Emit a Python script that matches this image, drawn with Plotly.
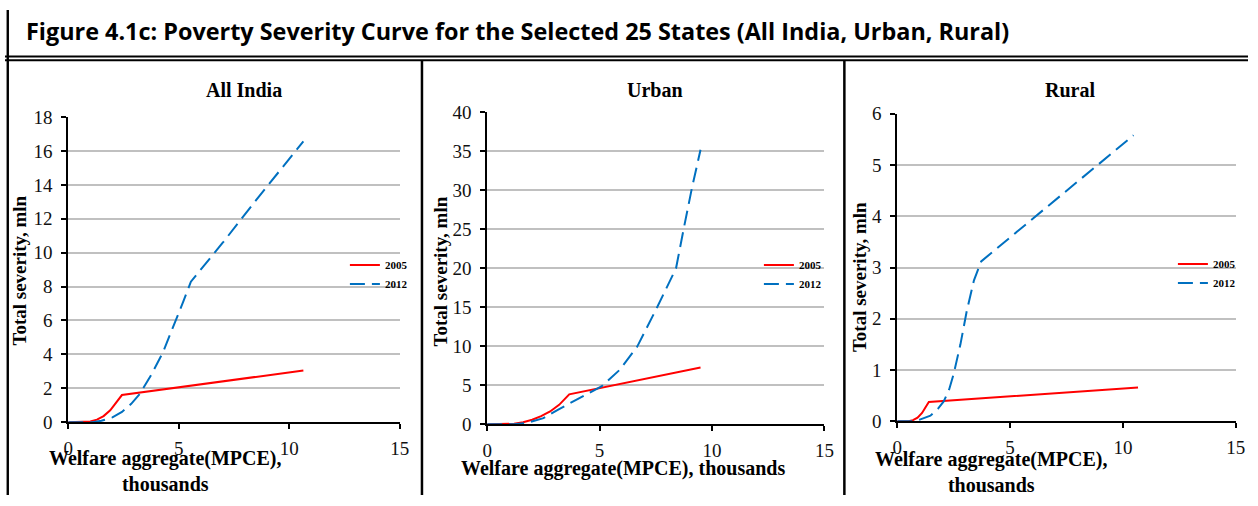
import plotly.graph_objects as go

# ---------------- data ----------------
xticks = [0, 5, 10, 15]

ai_x_2005 = [0, 0.7, 1.0, 1.3, 1.6, 1.9, 2.15, 2.43, 10.64]
ai_y_2005 = [0, 0, 0.04, 0.15, 0.36, 0.7, 1.1, 1.6, 3.05]
ai_x_2012 = [0, 1.1, 1.5, 2.0, 2.43, 2.85, 3.25, 3.77, 4.29, 4.8, 5.2, 5.55, 7.0, 8.5, 10.64]
ai_y_2012 = [0, 0, 0.08, 0.28, 0.6, 1.08, 1.69, 2.82, 4.13, 5.75, 7.1, 8.29, 10.6, 13.1, 16.57]

ur_x_2005 = [0, 0.8, 1.2, 1.6, 2.0, 2.4, 2.8, 3.2, 3.65, 9.49]
ur_y_2005 = [0, 0, 0.08, 0.27, 0.6, 1.05, 1.65, 2.5, 3.85, 7.3]
ur_x_2012 = [0, 1.2, 1.8, 2.5, 3.16, 4.0, 5.1, 5.9, 6.68, 7.56, 8.4, 8.75, 9.1, 9.49]
ur_y_2012 = [0, 0, 0.2, 0.8, 1.9, 3.2, 4.9, 7.0, 10.0, 15.0, 20.0, 25.2, 30.2, 35.2]

ru_x_2005 = [0, 0.5, 0.7, 0.9, 1.1, 1.25, 1.4, 10.67]
ru_y_2005 = [0, 0, 0.02, 0.07, 0.16, 0.26, 0.374, 0.66]
ru_x_2012 = [0, 0.7, 1.0, 1.47, 1.8, 2.06, 2.3, 2.5, 2.8, 3.08, 3.4, 3.72, 10.47]
ru_y_2012 = [0, 0, 0.03, 0.107, 0.24, 0.387, 0.62, 0.92, 1.5, 2.15, 2.75, 3.12, 5.58]

panel_titles = ["All India", "Urban", "Rural"]
series_names = ["2005", "2012"]
fig_title = "Figure 4.1c: Poverty Severity Curve for the Selected 25 States (All India, Urban, Rural)"
y_title = "Total severity, mln"
x_title_two = "Welfare aggregate(MPCE),<br>thousands"
x_title_one = "Welfare aggregate(MPCE), thousands"

# ---------------- styling / layout ----------------
W, H = 1258, 506
def px(x):
    return x / W
def py(y):
    return 1 - y / H

RED = "#ff0000"
BLUE = "#0070c0"
SERIF = "Liberation Serif, Times New Roman, serif"

panels = [
    dict(x=(64, 399.5), y=(430, 111.7), ymax=18, dtick=2,
         xs=(ai_x_2005, ai_x_2012), ys=(ai_y_2005, ai_y_2012)),
    dict(x=(488, 829.3), y=(432.3, 106.7), ymax=40, dtick=5,
         xs=(ur_x_2005, ur_x_2012), ys=(ur_y_2005, ur_y_2012)),
    dict(x=(903, 1245.6), y=(429, 108.3), ymax=6, dtick=1,
         xs=(ru_x_2005, ru_x_2012), ys=(ru_y_2005, ru_y_2012)),
]

fig = go.Figure()
layout = dict(
    width=W, height=H,
    margin=dict(l=0, r=0, t=0, b=0),
    paper_bgcolor="white", plot_bgcolor="white",
    showlegend=True,
)

legend_pos = [(344, 251), (763, 251), (1182, 250)]

for i, p in enumerate(panels):
    sfx = "" if i == 0 else str(i + 1)
    xa, ya = "x" + sfx, "y" + sfx
    lg = "legend" + sfx
    for k, (name, col, dash) in enumerate(
            [(series_names[0], RED, "solid"), (series_names[1], BLUE, "15px,7px")]):
        fig.add_trace(go.Scatter(
            x=p["xs"][k], y=p["ys"][k], mode="lines", name=name,
            line=dict(color=col, width=2, dash=dash),
            xaxis=xa, yaxis=ya, legend=lg, hoverinfo="skip"))
    layout["xaxis" + sfx] = dict(
        domain=[px(p["x"][0]), px(p["x"][1])], anchor=ya,
        range=[0, 15], tickvals=xticks, showgrid=False, zeroline=False,
        showline=True, linecolor="black", linewidth=2,
        ticks="outside", ticklen=5, tickwidth=2, tickcolor="black",
        tickfont=dict(family=SERIF, size=19, color="#111"),
        ticklabelstandoff=3, fixedrange=True)
    layout["yaxis" + sfx] = dict(
        domain=[py(p["y"][0]), py(p["y"][1])], anchor=xa,
        range=[0, p["ymax"]], dtick=p["dtick"], tick0=0,
        showgrid=True, gridcolor="#c0c0c0", gridwidth=1.8, zeroline=False,
        showline=True, linecolor="black", linewidth=2,
        ticks="outside", ticklen=5, tickwidth=2, tickcolor="black",
        tickfont=dict(family=SERIF, size=19, color="#111"),
        ticklabelstandoff=5, fixedrange=True)
    lx, ly = legend_pos[i]
    layout[lg] = dict(
        x=px(lx), y=py(ly), xanchor="left", yanchor="top",
        bgcolor="rgba(0,0,0,0)", borderwidth=0,
        font=dict(family=SERIF, size=11, color="black", weight="bold"),
        traceorder="normal")

fig.update_layout(**layout)

ann = []
ann.append(dict(text=fig_title, x=px(19), y=py(22), xref="paper", yref="paper",
                xanchor="left", yanchor="middle", showarrow=False,
                font=dict(family="Open Sans, sans-serif", size=23.4, color="black", weight="bold")))
for t, cx in zip(panel_titles, [242, 657.5, 1078]):
    ann.append(dict(text=t, x=px(cx), y=py(83), xref="paper", yref="paper",
                    xanchor="center", yanchor="middle", showarrow=False,
                    font=dict(family=SERIF, size=20, color="black", weight="bold")))
for cx, cy in [(15, 272), (441, 273), (865, 279)]:
    ann.append(dict(text=y_title, x=px(cx), y=py(cy), xref="paper", yref="paper",
                    xanchor="center", yanchor="middle", textangle=-90, showarrow=False,
                    font=dict(family=SERIF, size=19, color="black", weight="bold")))
for txt, cx, cy in [(x_title_two, 162, 481), (x_title_one, 625, 478), (x_title_two, 998, 482)]:
    ann.append(dict(text=txt, x=px(cx), y=py(cy), xref="paper", yref="paper",
                    xanchor="center", yanchor="middle", showarrow=False,
                    font=dict(family=SERIF, size=20, color="black", weight="bold")))

shapes = []
def line(x0, y0, x1, y1, w):
    shapes.append(dict(type="line", xref="paper", yref="paper",
                       x0=px(x0), y0=py(y0), x1=px(x1), y1=py(y1),
                       line=dict(color="black", width=w)))
line(2.8, 0, 2.8, H, 2.4)
line(0, 48.5, W, 48.5, 2)
line(0, 52.3, W, 52.3, 2)
line(422, 52.3, 422, H, 2.5)
line(849.5, 52.3, 849.5, H, 2.5)

fig.update_layout(annotations=ann, shapes=shapes)
fig.write_html("out.html")
